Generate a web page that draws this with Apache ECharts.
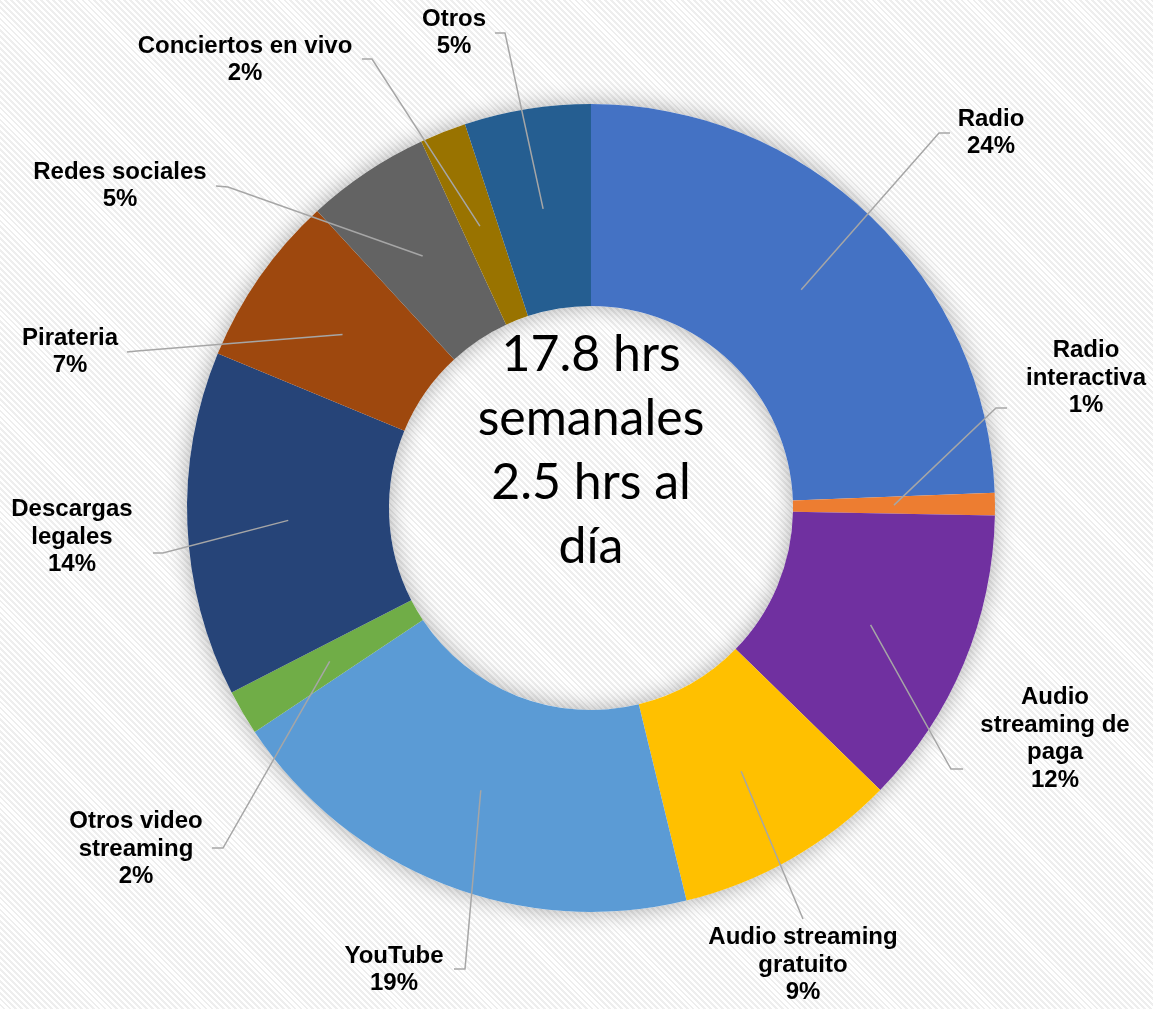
<!DOCTYPE html>
<html>
<head>
<meta charset="utf-8">
<script src="https://cdn.jsdelivr.net/npm/echarts/dist/echarts.min.js"></script>
<style>
html, body { margin: 0; padding: 0; background: #ffffff; }
#chart {
  width: 1153px; height: 1009px;
  background: repeating-linear-gradient(45deg, #ffffff 0px, #ffffff 2.2px, #eeeeee 2.2px, #eeeeee 4.2px);
}
</style>
</head>
<body>
<div id="chart"></div>
<script>
// ---- data ----
const categories = [
  'Radio',
  'Radio\ninteractiva',
  'Audio\nstreaming de\npaga',
  'Audio streaming\ngratuito',
  'YouTube',
  'Otros video\nstreaming',
  'Descargas\nlegales',
  'Pirateria',
  'Redes sociales',
  'Conciertos en vivo',
  'Otros'
];
const shares = [24.4, 0.9, 12.0, 8.9, 19.45, 1.8, 13.8, 6.9, 4.95, 1.85, 5.05];
const sliceColors = ['#4472C4', '#ED7D31', '#7030A0', '#FFC000', '#5B9BD5', '#70AD47',
                     '#264478', '#9E480E', '#636363', '#997300', '#255E91'];
const centerLines = ['17.8 hrs', 'semanales', '2.5 hrs al', 'día'];

// ---- layout ----
const pieCenter = [591, 508];
const rInner = 202, rOuter = 404;
// label centre (x,y), leader bend (x,y), leader end (x,y)
const labelSpots = [
  [991, 133, 939, 133, 950, 133],
  [1086, 378, 996, 408, 1007, 408],
  [1055, 739, 951, 769, 963, 769],
  [803, 965, 803, 919, 803, 919],
  [394, 970, 465, 969, 454, 969],
  [136, 849, 223, 848, 212, 848],
  [72, 537, 163, 553, 153, 553],
  [70, 352, 137, 351, 127, 352],
  [120, 186, 228, 187, 216, 186],
  [245, 60, 372, 59, 362, 59],
  [454, 33, 505, 33, 495, 33]
];

const chart = echarts.init(document.getElementById('chart'), null, { renderer: 'canvas' });

const pieData = categories.map((name, i) => ({
  name: name,
  value: shares[i],
  itemStyle: { color: sliceColors[i] }
}));
const labelData = categories.map((name, i) => ({
  name: name,
  value: shares[i]
}));

chart.setOption({
  backgroundColor: 'transparent',
  animation: false,
  graphic: [{
    type: 'text',
    x: pieCenter[0],
    y: pieCenter[1] - 57,
    z: 100,
    style: {
      text: centerLines.join('\n'),
      fill: '#000000',
      fontFamily: 'Lato',
      fontSize: 50,
      lineHeight: 64,
      align: 'center',
      verticalAlign: 'middle'
    }
  }],
  series: [
    {
      // soft shadow ring under the donut
      type: 'pie',
      silent: true,
      z: 1,
      center: pieCenter,
      radius: [rInner, rOuter],
      label: { show: false },
      labelLine: { show: false },
      data: [{ value: 1, itemStyle: { color: '#ffffff', shadowBlur: 22, shadowColor: 'rgba(0,0,0,0.32)' } }]
    },
    {
      // coloured slices
      type: 'pie',
      z: 2,
      center: pieCenter,
      radius: [rInner, rOuter],
      startAngle: 90,
      clockwise: true,
      avoidLabelOverlap: false,
      itemStyle: { borderWidth: 0 },
      label: { show: false },
      labelLine: { show: false },
      data: pieData
    },
    {
      // labels and leader lines, drawn above the slices
      type: 'pie',
      z: 3,
      silent: true,
      center: pieCenter,
      radius: [rInner, rOuter],
      startAngle: 90,
      clockwise: true,
      avoidLabelOverlap: false,
      itemStyle: { color: 'rgba(0,0,0,0)', borderWidth: 0 },
      label: {
        show: true,
        position: 'outside',
        formatter: p => p.name + '\n' + Math.round(p.percent) + '%',
        color: '#000000',
        fontFamily: 'Liberation Sans, Arial, sans-serif',
        fontWeight: 'bold',
        fontSize: 24,
        lineHeight: 27.5,
        align: 'center'
      },
      labelLine: {
        show: true,
        length: 20,
        length2: 10,
        smooth: false,
        lineStyle: { color: '#A6A6A6', width: 1.5 }
      },
      labelLayout: function (p) {
        const s = labelSpots[p.dataIndex];
        const p0 = p.labelLinePoints[0];
        const k = (rOuter + rInner) / 2 / rOuter;
        const start = [pieCenter[0] + (p0[0] - pieCenter[0]) * k,
                       pieCenter[1] + (p0[1] - pieCenter[1]) * k];
        return {
          x: s[0], y: s[1],
          align: 'center', verticalAlign: 'middle',
          labelLinePoints: [start, [s[2], s[3]], [s[4], s[5]]]
        };
      },
      data: labelData
    }
  ]
});
</script>
</body>
</html>
